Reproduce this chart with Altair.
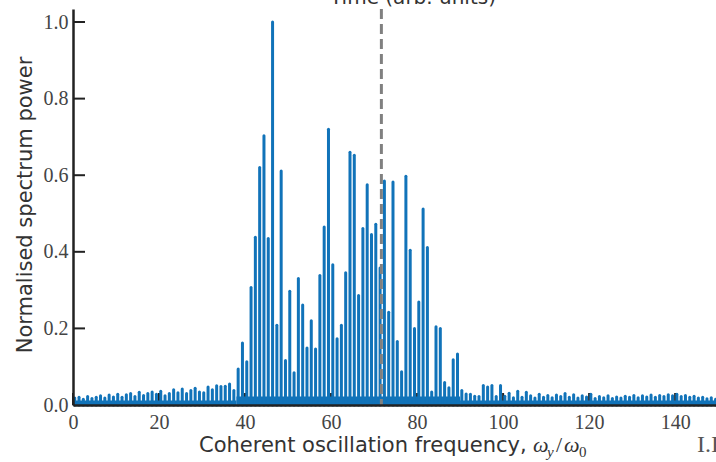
import altair as alt
import pandas as pd

# Spectral lines sit one unit of omega_0 apart; line k is centred at k + LINE_OFFSET.
LINE_OFFSET = 0.4
LINE_ORDER = list(range(150))

# Normalised power of each spectral line (order 0 .. 149)
POWER = [
    0.018, 0.020, 0.015, 0.022, 0.017, 0.020, 0.024, 0.018, 0.026, 0.021,
    0.028, 0.020, 0.027, 0.030, 0.022, 0.033, 0.025, 0.030, 0.034, 0.028,
    0.036, 0.024, 0.030, 0.040, 0.032, 0.042, 0.030, 0.038, 0.044, 0.034,
    0.032, 0.047, 0.040, 0.050, 0.048, 0.049, 0.055, 0.038, 0.094, 0.162,
    0.113, 0.307, 0.438, 0.620, 0.703, 0.435, 1.000, 0.208, 0.611, 0.116,
    0.297, 0.084, 0.330, 0.261, 0.149, 0.220, 0.146, 0.338, 0.465, 0.720,
    0.366, 0.173, 0.208, 0.345, 0.660, 0.652, 0.286, 0.461, 0.575, 0.445,
    0.472, 0.358, 0.585, 0.242, 0.582, 0.166, 0.087, 0.597, 0.404, 0.200,
    0.269, 0.512, 0.411, 0.034, 0.204, 0.200, 0.059, 0.045, 0.118, 0.133,
    0.038, 0.029, 0.028, 0.023, 0.022, 0.051, 0.047, 0.051, 0.022, 0.051,
    0.023, 0.031, 0.019, 0.036, 0.020, 0.033, 0.024, 0.018, 0.028, 0.020,
    0.025, 0.019, 0.026, 0.022, 0.030, 0.020, 0.027, 0.018, 0.024, 0.021,
    0.028, 0.017, 0.022, 0.019, 0.024, 0.017, 0.021, 0.018, 0.023, 0.020,
    0.025, 0.019, 0.024, 0.021, 0.026, 0.020, 0.025, 0.022, 0.027, 0.024,
    0.028, 0.022, 0.025, 0.020, 0.023, 0.018, 0.020, 0.016, 0.019, 0.015,
]

# broadband background under the lines: band start, band end, level
FLOOR_START = [0.0, 38.0, 90.0]
FLOOR_END = [38.0, 90.0, 149.5]
FLOOR_LEVEL = [0.012, 0.022, 0.012]

SWITCH_FREQ = 71.7       # dashed marker
X_TICKS = [0, 20, 40, 60, 80, 100, 120, 140]
Y_TICKS = [0.0, 0.2, 0.4, 0.6, 0.8, 1.0]
X_MAX = 149.5
Y_MAX = 1.034

W, H = 643, 396
BLUE = "#1173b9"
INK = "#222222"
LABEL = "#444444"
TITLE = "#333333"
SANS = "DejaVu Sans"
SERIF = "Liberation Serif"

spectrum = pd.DataFrame({
    "freq": [k + LINE_OFFSET for k in LINE_ORDER],
    "power": POWER,
    "base": [0.0] * len(POWER),
})

xs = alt.Scale(domain=[0, X_MAX], nice=False, zero=False)
ys = alt.Scale(domain=[0, Y_MAX], nice=False, zero=False)

x_axis = alt.Axis(
    values=X_TICKS, format="d", title=None, grid=False, ticks=False, tickSize=0,
    domainColor=INK, domainWidth=2.5, labelFont=SERIF, labelFontSize=20,
    labelColor=LABEL, labelPadding=7, labelFlush=False, zindex=1,
)
y_axis = alt.Axis(
    values=Y_TICKS, format=".1f", title=None, grid=False, ticks=False, tickSize=0,
    domainColor=INK, domainWidth=2.5, labelFont=SERIF, labelFontSize=20,
    labelColor=LABEL, labelPadding=5, labelFlush=False, zindex=1,
)

# inward-pointing tick marks, drawn underneath the spectrum
xticks = alt.Chart(pd.DataFrame({"t": X_TICKS})).mark_rule(
    color=INK, strokeWidth=2
).encode(
    x=alt.X("t:Q", scale=xs, axis=x_axis),
    y=alt.value(H), y2=alt.value(H - 12),
)
yticks = alt.Chart(pd.DataFrame({"t": Y_TICKS})).mark_rule(
    color=INK, strokeWidth=2
).encode(
    y=alt.Y("t:Q", scale=ys, axis=y_axis),
    x=alt.value(0), x2=alt.value(12),
)

floor = alt.Chart(pd.DataFrame({
    "x0": FLOOR_START, "x1": FLOOR_END,
    "lo": [0.0] * len(FLOOR_LEVEL), "hi": FLOOR_LEVEL,
})).mark_rect(color=BLUE).encode(
    x=alt.X("x0:Q", scale=xs, axis=x_axis), x2="x1:Q",
    y=alt.Y("lo:Q", scale=ys, axis=y_axis), y2="hi:Q",
)

lines = alt.Chart(spectrum).mark_rule(
    color=BLUE, strokeWidth=3, strokeCap="round"
).encode(
    x=alt.X("freq:Q", scale=xs, axis=x_axis),
    y=alt.Y("power:Q", scale=ys, axis=y_axis),
    y2="base:Q",
)

marker = alt.Chart(pd.DataFrame({"f": [SWITCH_FREQ]})).mark_rule(
    color="#808080", strokeWidth=3, strokeDash=[10, 5]
).encode(x=alt.X("f:Q", scale=xs, axis=x_axis))


def label(text, x, y, font, size, color, **kw):
    return alt.Chart(pd.DataFrame({"s": [text]})).mark_text(
        font=font, fontSize=size, color=color, **kw
    ).encode(x=alt.value(x), y=alt.value(y), text="s:N")


texts = [
    label("Normalised spectrum power", -47, 196, SANS, 21, TITLE,
          angle=270, align="center", baseline="middle"),
    label("Coherent oscillation frequency,", 126, 443, SANS, 21, TITLE,
          align="left", baseline="alphabetic"),
    label("ω", 460, 443, SERIF, 22, TITLE, align="left",
          baseline="alphabetic", fontStyle="italic"),
    label("y", 474, 448, SERIF, 15, TITLE, align="left",
          baseline="alphabetic", fontStyle="italic"),
    label("/", 483, 443, SERIF, 22, TITLE, align="left",
          baseline="alphabetic"),
    label("ω", 491, 443, SERIF, 22, TITLE, align="left",
          baseline="alphabetic", fontStyle="italic"),
    label("0", 506, 448, SERIF, 15, TITLE, align="left",
          baseline="alphabetic"),
    label("Time (arb. units)", 340, -5, SANS, 20, TITLE,
          align="center", baseline="alphabetic"),
    label("I.I", 624, 443, SERIF, 24, "#555555", align="left",
          baseline="alphabetic"),
]

chart = alt.layer(xticks, yticks, floor, lines, marker, *texts).properties(
    width=W, height=H,
    autosize=alt.AutoSizeParams(type="none"),
    padding={"left": 73, "top": 9, "right": 0, "bottom": 57},
).configure_view(stroke=None)

chart.save("out.html", embed_options={"renderer": "svg", "actions": False})
